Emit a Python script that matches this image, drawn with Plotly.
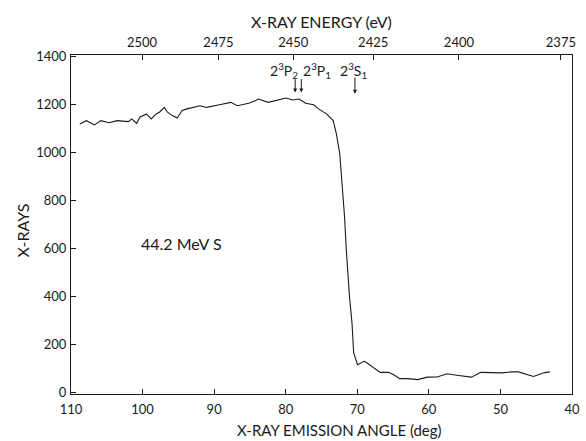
import plotly.graph_objects as go

angle = [108.77, 107.86, 106.73, 105.82, 104.69, 103.56, 101.97, 101.52, 100.83, 100.37,
         99.47, 98.79, 98.11, 97.65, 96.97, 96.52, 95.84, 95.16, 94.47, 93.79,
         91.98, 91.07, 89.26, 87.67, 86.75, 85.17, 84.26, 83.81, 82.45, 81.31,
         79.94, 79.05, 78.13, 77.22, 76.09, 75.41, 74.96, 74.3, 73.37, 72.92,
         72.45, 72.24, 72.0, 71.78, 71.56, 71.32, 71.09, 70.74, 70.51, 69.96,
         69.05, 68.83, 67.92, 66.79, 65.65, 64.96, 64.06, 62.92, 61.56, 60.2,
         58.83, 57.47, 56.11, 54.07, 52.71, 51.13, 49.77, 48.4, 47.49, 45.37,
         43.84, 43.08]
counts = [1118, 1132, 1114, 1132, 1123, 1132, 1128, 1139, 1121, 1146,
          1160, 1139, 1160, 1167, 1187, 1167, 1153, 1143, 1174, 1181,
          1194, 1187, 1198, 1208, 1194, 1204, 1215, 1222, 1208, 1215,
          1226, 1218, 1222, 1204, 1198, 1181, 1171, 1160, 1132, 1077,
          995, 913, 830, 732, 607, 498, 400, 291, 167, 117,
          131, 128, 110, 85, 85, 76, 59, 59, 55, 65,
          66, 79, 73, 65, 85, 85, 83, 87, 87, 68,
          84, 87]

# Bottom axis ticks
angle_ticks = [110, 100, 90, 80, 70, 60, 50, 40]
# Top axis (energy) tick positions in angle, with labels
energy_tick_angles = [100.07, 89.4, 78.95, 67.78, 55.8, 41.55]
energy_tick_labels = ["2500", "2475", "2450", "2425", "2400", "2375"]
y_ticks = [0, 200, 400, 600, 800, 1000, 1200, 1400]

# Line markers
line_labels = ["2<sup>3</sup>P<sub>2</sub>", "2<sup>3</sup>P<sub>1</sub>", "2<sup>3</sup>S<sub>1</sub>"]
label_angles = [80.3, 75.6, 70.5]
label_y = [1340, 1340, 1340]
arrow_angles = [78.68, 77.82, 70.33]
arrow_top = [1311, 1311, 1318]
arrow_tip = [1249, 1249, 1244]

FONT = "Lato"
INK = "#1a1a1a"

fig = go.Figure()
fig.add_trace(go.Scatter(x=angle, y=counts, mode="lines",
                         line=dict(color=INK, width=1.1), showlegend=False))
fig.add_trace(go.Scatter(x=energy_tick_angles, y=[None] * len(energy_tick_angles),
                         xaxis="x2", mode="lines", showlegend=False, hoverinfo="skip"))

axis_common = dict(showgrid=False, zeroline=False, showline=True, linecolor=INK,
                   linewidth=1, ticks="inside", ticklen=5, tickcolor=INK,
                   ticklabeloverflow="allow",
                   tickfont=dict(family=FONT, size=13, color=INK))

fig.update_layout(
    width=586, height=441,
    margin=dict(l=71, r=6, t=55, b=47),
    paper_bgcolor="white", plot_bgcolor="white",
    font=dict(family=FONT, color=INK),
    xaxis=dict(range=[110, 40], tickvals=angle_ticks, ticklabelstandoff=3, **axis_common),
    xaxis2=dict(range=[110, 40], overlaying="x", side="top", tickvals=energy_tick_angles,
                ticktext=energy_tick_labels, ticklabelstandoff=2, **axis_common),
    yaxis=dict(range=[-5, 1405], tickvals=y_ticks, mirror=True, ticklabelstandoff=1,
               **axis_common),
)

for txt, xa, ya in zip(line_labels, label_angles, label_y):
    fig.add_annotation(x=xa, y=ya, text=txt, showarrow=False,
                       font=dict(family=FONT, size=14, color=INK))
for xa, yt, yh in zip(arrow_angles, arrow_top, arrow_tip):
    fig.add_annotation(x=xa, y=yh, ax=xa, ay=yt, axref="x", ayref="y", text="",
                       showarrow=True, arrowhead=2, arrowsize=0.8, arrowwidth=1,
                       arrowcolor=INK)

fig.add_annotation(x=94.5, y=623, text="44.2 MeV S", showarrow=False,
                   font=dict(family=FONT, size=16, color=INK))
fig.add_annotation(xref="paper", yref="paper", x=0.535, y=-0.106, text="X-RAY EMISSION ANGLE (deg)",
                   xanchor="center", yanchor="middle",
                   showarrow=False, font=dict(family=FONT, size=15, color=INK))
fig.add_annotation(xref="paper", yref="paper", x=0.50, y=1.1, text="X-RAY ENERGY (eV)",
                   xanchor="center", yanchor="middle",
                   showarrow=False, font=dict(family=FONT, size=16, color=INK))
fig.add_annotation(xref="paper", yref="paper", x=-0.096, y=0.482, text="X-RAYS", textangle=-90,
                   xanchor="center", yanchor="middle",
                   showarrow=False, font=dict(family=FONT, size=16, color=INK))

fig.write_html("out.html")
